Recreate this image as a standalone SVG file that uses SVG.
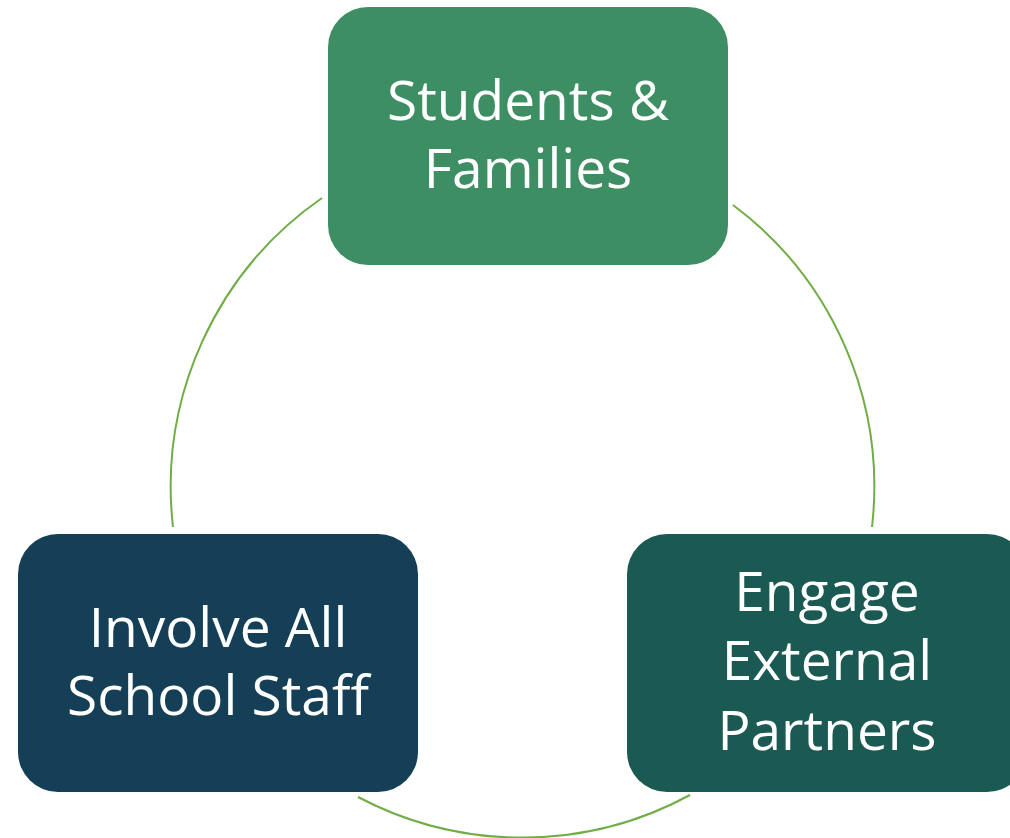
<svg xmlns="http://www.w3.org/2000/svg" width="1010" height="838" viewBox="0 0 1010 838">
<style>
.arc{fill:none;stroke:#70ad47;stroke-width:2}
.lbl{font-family:"Open Sans","Noto Sans","Liberation Sans",sans-serif;font-size:55px;fill:#ffffff;text-anchor:middle}
</style>
<rect width="1010" height="838" fill="#ffffff"/>
<g id="connectors">
<path class="arc" d="M322,198 A352,352 0 0 0 173,527"/>
<path class="arc" d="M733,205 A352,352 0 0 1 872,527"/>
<path class="arc" d="M358,797 A352,352 0 0 0 690,795"/>
</g>
<g id="students-families">
<rect x="328" y="7" width="400" height="258" rx="40" fill="#3d8f63"/>
<text class="lbl" x="528" y="120">Students &amp;</text>
<text class="lbl" x="528" y="188">Families</text>
</g>
<g id="involve-staff">
<rect x="18" y="534" width="400" height="258" rx="40" fill="#143f56"/>
<text class="lbl" x="218" y="647">Involve All</text>
<text class="lbl" x="218" y="715">School Staff</text>
</g>
<g id="engage-partners">
<rect x="627" y="534" width="400" height="258" rx="40" fill="#1b5a52"/>
<text class="lbl" x="827" y="611">Engage</text>
<text class="lbl" x="827" y="680">External</text>
<text class="lbl" x="827" y="750">Partners</text>
</g>
</svg>
